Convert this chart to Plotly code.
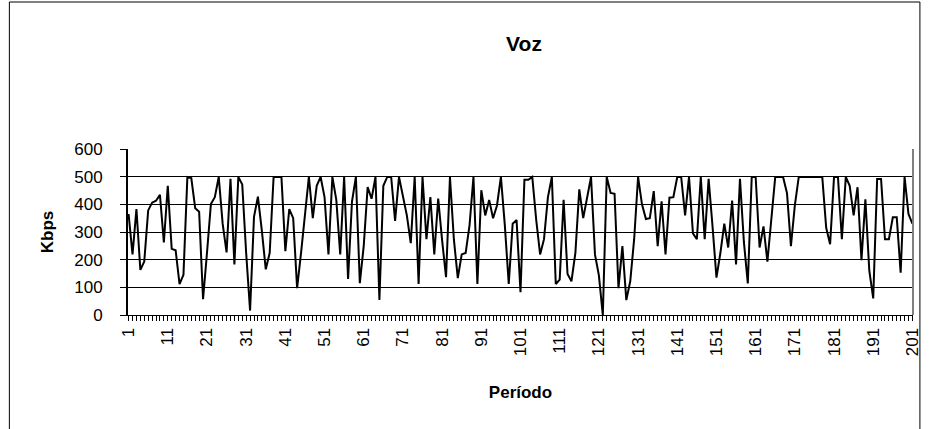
import plotly.graph_objects as go

periods = list(range(1, 202))
kbps = [
    365, 219, 383, 163, 193, 378, 406, 413, 434, 262,
    467, 239, 234, 112, 145, 499, 495, 386, 373, 57,
    224, 401, 426, 499, 330, 226, 492, 183, 499, 472,
    224, 16, 355, 428, 305, 165, 224, 499, 499, 499,
    231, 383, 350, 97, 224, 370, 499, 350, 467, 499,
    426, 219, 499, 416, 219, 499, 130, 410, 499, 115,
    250, 462, 420, 499, 54, 467, 499, 499, 340, 499,
    430, 360, 260, 499, 112, 499, 274, 426, 219, 421,
    270, 137, 499, 274, 133, 219, 224, 325, 499, 112,
    451, 360, 416, 350, 396, 499, 325, 112, 330, 343,
    82, 489, 489, 499, 345, 219, 274, 426, 499, 112,
    128, 416, 148, 122, 224, 454, 350, 426, 499, 219,
    143, 0, 499, 441, 438, 97, 249, 54, 122, 274,
    499, 400, 347, 350, 448, 249, 411, 219, 424, 426,
    499, 499, 360, 499, 295, 274, 499, 274, 492, 320,
    135, 224, 330, 244, 414, 183, 492, 264, 114, 499,
    499, 244, 320, 193, 345, 499, 499, 499, 440, 249,
    396, 499, 499, 499, 499, 499, 499, 499, 315, 256,
    499, 499, 274, 499, 467, 360, 462, 198, 418, 160,
    60, 492, 492, 274, 274, 353, 353, 153, 499, 365,
    330,
]
x_tick_vals = list(range(1, 202, 10))
x_tick_text = [str(v) for v in x_tick_vals]
y_tick_vals = [0, 100, 200, 300, 400, 500, 600]

title_text = "Voz"
x_title = "Período"
y_title = "Kbps"

W, H = 931, 429
ML, MR, MT, MB = 128, 9, 149, 114
PW = W - ML - MR
PH = H - MT - MB

def px_to_paper_x(px):
    return (px - ML) / PW

def px_to_paper_y(py):
    return (H - MB - py) / PH

fig = go.Figure()
fig.add_trace(go.Scatter(
    x=periods, y=kbps, mode="lines",
    line=dict(color="black", width=2),
    showlegend=False, hoverinfo="skip",
))

font_family = "Liberation Sans, Arial, sans-serif"

fig.update_layout(
    width=W, height=H,
    margin=dict(l=ML, r=MR, t=MT, b=MB),
    paper_bgcolor="white", plot_bgcolor="white",
    font=dict(family=font_family, color="black", size=17),
    title=dict(text="<b>" + title_text + "</b>", x=524 / W,
               xanchor="center", y=1 - 44 / H, yanchor="middle",
               font=dict(size=21, family=font_family)),
    xaxis=dict(
        range=[0.85, 201.15],
        tickmode="array", tickvals=x_tick_vals, ticktext=x_tick_text,
        tickangle=-90,
        showgrid=False, zeroline=False,
        showline=True, linecolor="black", linewidth=1,
        ticks="outside", ticklen=5, tickcolor="black",
        minor=dict(ticks="outside", ticklen=5, tickcolor="black", dtick=1, tick0=1),
        tickfont=dict(size=17),
        title=dict(text="<b>" + x_title + "</b>", font=dict(size=17), standoff=30),
    ),
    yaxis=dict(
        range=[0, 600],
        tickmode="array", tickvals=y_tick_vals,
        showgrid=True, gridcolor="black", gridwidth=1,
        zeroline=False,
        showline=True, linecolor="black", linewidth=2,
        ticks="outside", ticklen=6, tickcolor="black",
        ticklabelstandoff=14,
        tickfont=dict(size=17),
        title=dict(text="<b>" + y_title + "</b>", font=dict(size=17), standoff=16),
    ),
    shapes=[
        dict(type="line", xref="paper", yref="paper", x0=1, x1=1, y0=0, y1=1,
             line=dict(color="#808080", width=2)),
        dict(type="rect", xref="paper", yref="paper",
             x0=px_to_paper_x(8), x1=px_to_paper_x(929),
             y0=px_to_paper_y(432), y1=px_to_paper_y(2),
             line=dict(color="black", width=1), fillcolor="rgba(0,0,0,0)",
             layer="below"),
    ],
)

fig.write_html("out.html")
